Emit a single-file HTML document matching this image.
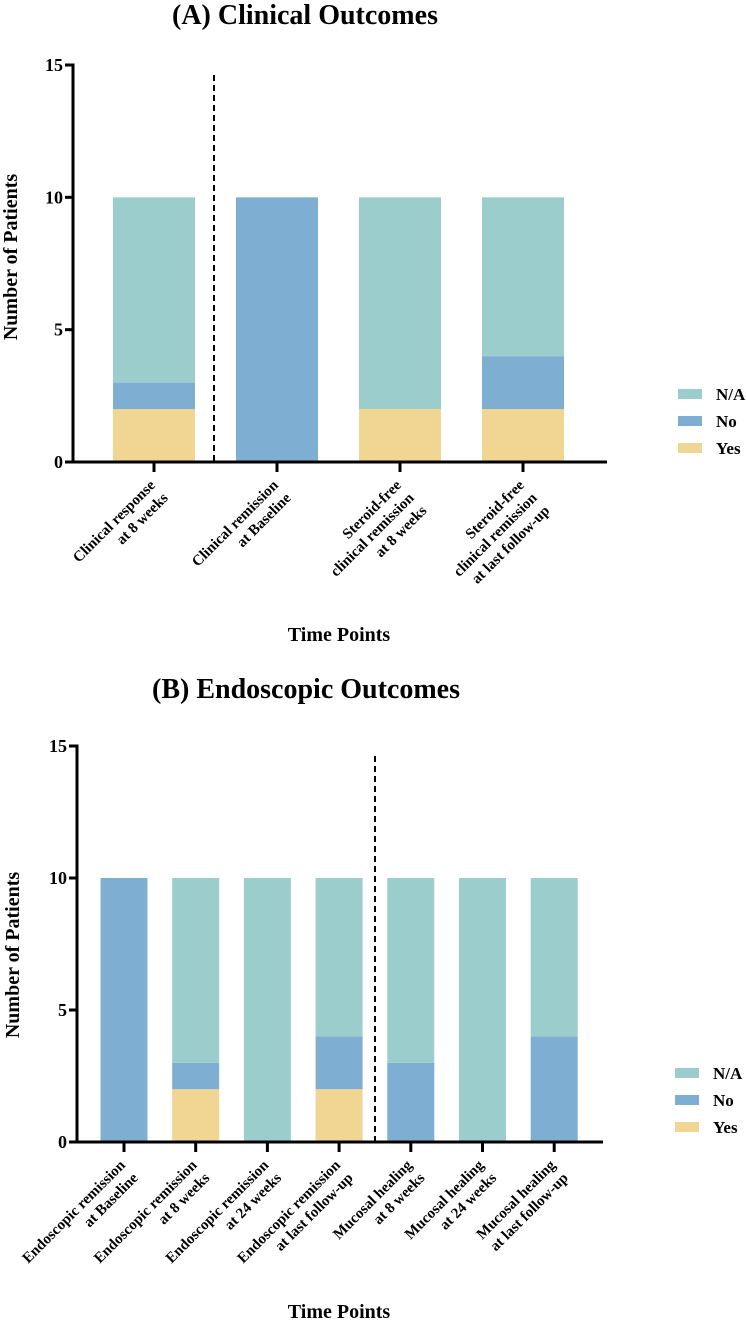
<!DOCTYPE html>
<html><head><meta charset="utf-8">
<style>
html,body{margin:0;padding:0;background:#fff;}
svg{display:block;font-family:"Liberation Serif",serif;font-weight:bold;}
</style></head>
<body>
<svg id="chart" width="746" height="1322" viewBox="0 0 746 1322" xmlns="http://www.w3.org/2000/svg">
<text x="172" y="24" font-size="28" fill="#000">(A) Clinical Outcomes</text>
<text x="152" y="698" font-size="28" fill="#000">(B) Endoscopic Outcomes</text>
<text x="339" y="641" font-size="20" text-anchor="middle">Time Points</text>
<text x="339" y="1318" font-size="20" text-anchor="middle">Time Points</text>
<text transform="translate(17,257) rotate(-90)" font-size="20" text-anchor="middle">Number of Patients</text>
<text transform="translate(19,955) rotate(-90)" font-size="20" text-anchor="middle">Number of Patients</text>
</svg>
<script>
const catsA = [["Clinical response","at 8 weeks"],["Clinical remission","at Baseline"],["Steroid-free","clinical remission","at 8 weeks"],["Steroid-free","clinical remission","at last follow-up"]];
const yesA = [2,0,2,2];
const noA = [1,10,0,2];
const naA = [7,0,8,6];
const catsB = [["Endoscopic remission","at Baseline"],["Endoscopic remission","at 8 weeks"],["Endoscopic remission","at 24 weeks"],["Endoscopic remission","at last follow-up"],["Mucosal healing","at 8 weeks"],["Mucosal healing","at 24 weeks"],["Mucosal healing","at last follow-up"]];
const yesB = [0,2,0,2,0,0,0];
const noB = [10,1,0,2,3,0,4];
const naB = [0,7,10,6,7,10,6];
const yTicks = [0,5,10,15];
const legendLabels = ["N/A","No","Yes"];

const NS="http://www.w3.org/2000/svg";
const svg=document.getElementById('chart');
const COL={na:"#9bcdcd",no:"#7eafd3",yes:"#f1d593"};
function el(tag,attrs,parent){const e=document.createElementNS(NS,tag);for(const k in attrs)e.setAttribute(k,attrs[k]);(parent||svg).appendChild(e);return e;}

function panel(p){
  const g=el('g',{});
  
  
  const y=v=>p.base-(v/15)*(p.base-p.top);
  const x=i=>p.x0+i*p.step;
  p.cats.forEach((c,i)=>{
    let acc=0;
    [['yes',p.yes[i]],['no',p.no[i]],['na',p.na[i]]].forEach(([k,v])=>{
      if(v<=0)return;
      const r=el('rect',{x:x(i)-p.bw/2,y:y(acc+v),width:p.bw,height:y(acc)-y(acc+v),fill:COL[k]},g);
      
      
      acc+=v;
    });
  });
  const d=el('line',{x1:p.dash,x2:p.dash,y1:p.dashTop,y2:p.base,stroke:"#000","stroke-width":2,"stroke-dasharray":"6,4"},g);
  
  
  const ya=el('line',{x1:p.ax,x2:p.ax,y1:y(15)-1.5,y2:p.base+1.5,stroke:"#000","stroke-width":3},g);
  
  
  yTicks.forEach(t=>{
    el('line',{x1:p.ax-8,x2:p.ax,y1:y(t),y2:y(t),stroke:"#000","stroke-width":3},g);
    const tx=el('text',{x:p.ax-10,y:y(t)+6,"font-size":18,"text-anchor":"end"},g);
    tx.textContent=t;
    
    
  });
  const xa=el('line',{x1:p.ax-1.5,x2:p.axEnd,y1:p.base,y2:p.base,stroke:"#000","stroke-width":3},g);
  
  
  p.cats.forEach((c,i)=>{
    el('line',{x1:x(i),x2:x(i),y1:p.base,y2:p.base+10,stroke:"#000","stroke-width":3},g);
    const t=el('text',{transform:`translate(${x(i)+2},${p.base+24}) rotate(-45)`,"font-size":15,"text-anchor":"end"},g);
    
    
    c.forEach((line,j)=>{const ts=el('tspan',{x:0,dy:j===0?0:18},t);ts.textContent=line;});
  });
  const keys=['na','no','yes'];
  legendLabels.forEach((lab,j)=>{
    const cy=p.legY+j*27;
    const lg=el('g',{},g);
    
    
    el('rect',{x:p.legX,y:cy-5,width:24,height:10,fill:COL[keys[j]]},lg);
    const t=el('text',{x:p.legX+38,y:cy+6,"font-size":17},lg);
    t.textContent=lab;
  });
}
panel({name:'panel-a-chart',cats:catsA,yes:yesA,no:noA,na:naA,base:462,top:65,x0:154,step:123,bw:82,ax:73,axEnd:607,dash:214,dashTop:75,legX:678,legY:394});
panel({name:'panel-b-chart',cats:catsB,yes:yesB,no:noB,na:naB,base:1142,top:746,x0:124,step:71.7,bw:47,ax:77,axEnd:603,dash:375,dashTop:756,legX:675,legY:1073});
</script>
</body></html>
